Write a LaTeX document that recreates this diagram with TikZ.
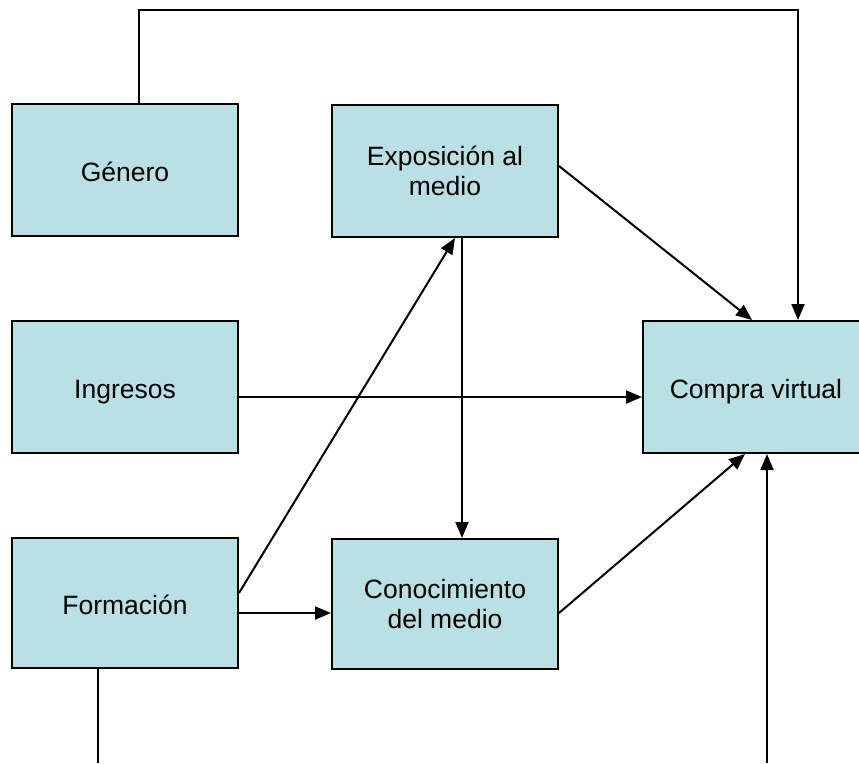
\documentclass[tikz,border=0pt]{standalone}
\usepackage{fontspec}
\setmainfont{Liberation Sans}
\usetikzlibrary{arrows.meta}
\definecolor{boxfill}{RGB}{185,224,228}
\begin{document}
\begin{tikzpicture}[x=1pt,y=-1pt,
  varbox/.style={draw=black, line width=2pt, fill=boxfill,
    minimum width=226pt, minimum height=132pt, inner sep=0pt,
    align=center, font=\fontsize{26.5}{30}\selectfont},
  oneline/.style={text height=22pt, text depth=0pt},
  link/.style={line width=2pt, -{Triangle[length=16pt,width=13pt]}},
  plain/.style={line width=2pt}]
\useasboundingbox (0,0) rectangle (859,763);
\clip (0,0) rectangle (859,763);

% boxes
\node[varbox, oneline] (gen)  at (125,170) {Género};
\node[varbox] (expo) at (445,171) {Exposición al\\medio};
\node[varbox, oneline] (ing)  at (125,387) {Ingresos};
\node[varbox, oneline] (comp) at (756,387) {Compra virtual};
\node[varbox, oneline, minimum height=130pt] (form) at (125,603) {Formación};
\node[varbox, minimum height=130pt] (cono) at (445,604) {Conocimiento\\del medio};

% loose ends at the bottom edge
\coordinate (formend) at (98,763);
\coordinate (extra) at (767,763);

% start points of the horizontal links
\coordinate (ingout) at ([yshift=-10pt]ing.east);
\coordinate (formout) at ([yshift=-10pt]form.east);

% connectors
\draw[link] (gen.north -| 139,0) |- (798,10) -- (comp.north -| 798,0);
\draw[link] ([yshift=5pt]expo.east) -- (comp.north -| 752,0);
\draw[link] (ingout) -- (ingout -| comp.west);
\draw[link] ([yshift=10pt]form.east) -- (expo.south -| 455,0);
\draw[link] (formout) -- (formout -| cono.west);
\draw[link] (expo.south -| 462,0) -- (cono.north -| 462,0);
\draw[link] ([yshift=-9pt]cono.east) -- (comp.south -| 745,0);
\draw[link] (extra) -- (comp.south -| 767,0);
\draw[plain] (form.south -| formend) -- (formend);
\end{tikzpicture}
\end{document}
